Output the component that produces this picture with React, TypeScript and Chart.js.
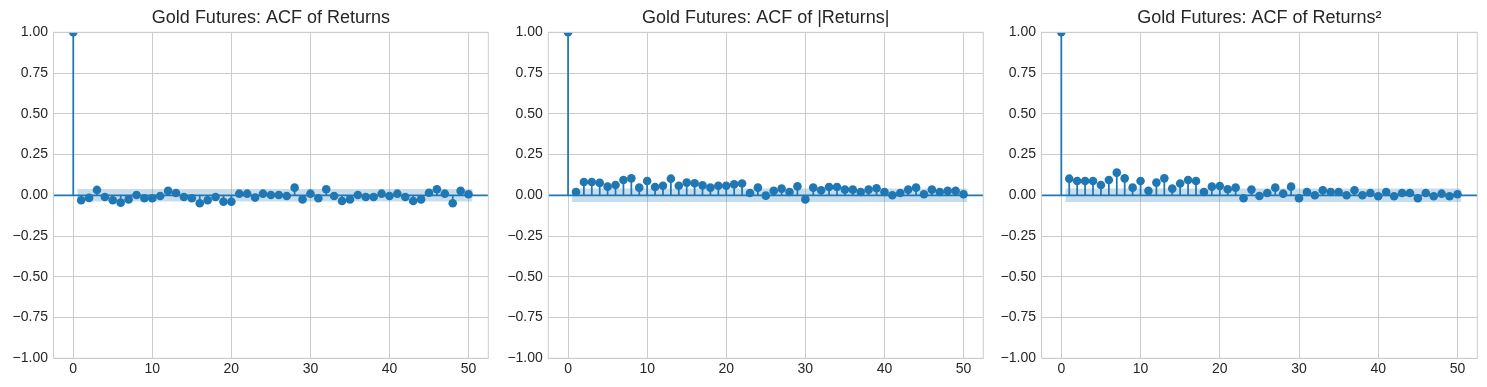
import React, { useEffect, useRef } from 'react';
import { Chart, registerables } from 'chart.js';

Chart.register(...registerables);

// ---------------- data ----------------
const lags: number[] = Array.from({ length: 51 }, (_, i) => i);

const acfReturns: number[] = [
  1, -0.03, -0.016, 0.033, -0.01, -0.03, -0.045, -0.025, 0.002, -0.018, -0.018,
  -0.004, 0.027, 0.014, -0.01, -0.018, -0.049, -0.03, -0.01, -0.04, -0.04,
  0.01, 0.01, -0.014, 0.01, 0.002, 0.002, -0.004, 0.047, -0.025, 0.01,
  -0.018, 0.037, -0.004, -0.035, -0.025, 0.002, -0.01, -0.01, 0.01, -0.004,
  0.01, -0.01, -0.035, -0.025, 0.016, 0.037, 0.01, -0.049, 0.027, 0.006,
];

const acfAbsReturns: number[] = [
  1, 0.02, 0.082, 0.082, 0.076, 0.053, 0.063, 0.094, 0.104, 0.047, 0.088,
  0.051, 0.059, 0.102, 0.059, 0.078, 0.074, 0.061, 0.047, 0.059, 0.059,
  0.067, 0.072, 0.014, 0.047, -0.002, 0.027, 0.041, 0.02, 0.055, -0.025,
  0.047, 0.031, 0.051, 0.051, 0.035, 0.035, 0.02, 0.035, 0.043, 0.02,
  0.0, 0.014, 0.035, 0.047, 0.006, 0.035, 0.02, 0.027, 0.027, 0.006,
];

const acfSqReturns: number[] = [
  1, 0.102, 0.088, 0.088, 0.088, 0.063, 0.094, 0.139, 0.104, 0.047, 0.088,
  0.027, 0.078, 0.104, 0.041, 0.072, 0.094, 0.088, 0.02, 0.053, 0.057,
  0.037, 0.047, -0.018, 0.035, -0.004, 0.014, 0.047, 0.01, 0.053, -0.018,
  0.02, 0.0, 0.031, 0.02, 0.02, 0.0, 0.031, 0.0, 0.014, -0.006,
  0.02, -0.006, 0.014, 0.014, -0.018, 0.014, -0.006, 0.01, -0.006, 0.006,
];

const confHalfWidth: number[] = [0.038, 0.041, 0.041];

const titles: string[] = [
  'Gold Futures: ACF of Returns',
  'Gold Futures: ACF of |Returns|',
  'Gold Futures: ACF of Returns²',
];

const xTickValues: number[] = [0, 10, 20, 30, 40, 50];

// ---------------- layout / style ----------------
const W = 1487;
const H = 387;
const PANEL_LEFT = [53.5, 548.3, 1041.5];
const PANEL_RIGHT = [488.3, 983.3, 1477.3];
const AXES_BOTTOM = 358.3;
const Y_AXIS_W = 50;
const BLUE = '#1f77b4';
const BAND = 'rgba(31,119,180,0.25)';
const GRID = '#cccccc';
const TEXT = '#262626';
const FONT = "'Liberation Sans', Arial, Helvetica, sans-serif";

Chart.defaults.font.family = FONT;

const fmtY = (v: number) => {
  if (Math.abs(v) < 1e-9) return '0.00';
  return v < 0 ? '\u2212' + Math.abs(v).toFixed(2) : v.toFixed(2);
};

const borderPlugin = {
  id: 'axesBorder',
  afterDatasetsDraw(chart: any) {
    const { ctx, chartArea } = chart;
    ctx.save();
    ctx.strokeStyle = GRID;
    ctx.lineWidth = 1;
    ctx.strokeRect(chartArea.left, chartArea.top, chartArea.right - chartArea.left, chartArea.bottom - chartArea.top);
    ctx.restore();
  },
};

function buildConfig(i: number): any {
  const series = [acfReturns, acfAbsReturns, acfSqReturns][i];
  const half = confHalfWidth[i];
  const stems: any[] = [];
  lags.forEach((lag, k) => {
    stems.push({ x: lag, y: 0 }, { x: lag, y: series[k] }, { x: lag, y: null });
  });
  const L = PANEL_LEFT[i];
  const R = PANEL_RIGHT[i];
  return {
    type: 'line',
    data: {
      datasets: [
        {
          label: 'acf',
          data: lags.map((lag, k) => ({ x: lag, y: series[k] })),
          showLine: false,
          pointRadius: 4.3,
          pointBackgroundColor: BLUE,
          pointBorderWidth: 0,
          pointBorderColor: BLUE,
          order: 0,
          clip: 0,
        },
        {
          label: 'zero',
          data: [{ x: -2.5, y: 0 }, { x: 52.5, y: 0 }],
          borderColor: BLUE,
          borderWidth: 1.75,
          pointRadius: 0,
          order: 1,
          clip: 0,
        },
        {
          label: 'stems',
          data: stems,
          borderColor: BLUE,
          borderWidth: 1.75,
          pointRadius: 0,
          spanGaps: false,
          order: 2,
          clip: 0,
        },
        {
          label: 'upper',
          data: [{ x: 0.5, y: half }, { x: 50.5, y: half }],
          borderColor: 'rgba(0,0,0,0)',
          borderWidth: 1,
          backgroundColor: BAND,
          fill: '+1',
          pointRadius: 0,
          order: 3,
        },
        {
          label: 'lower',
          data: [{ x: 0.5, y: -half }, { x: 50.5, y: -half }],
          borderColor: 'rgba(0,0,0,0)',
          borderWidth: 1,
          fill: false,
          pointRadius: 0,
          order: 4,
        },
      ],
    },
    options: {
      responsive: false,
      maintainAspectRatio: false,
      animation: false,
      events: [],
      layout: { padding: { left: L - Y_AXIS_W, right: W - R, top: 0, bottom: 0 } },
      plugins: {
        legend: { display: false },
        tooltip: { enabled: false },
        title: {
          display: true,
          text: titles[i],
          fullSize: false,
          color: TEXT,
          font: { size: 18, weight: 'normal', family: FONT, lineHeight: 1.2 },
          padding: { top: 6.96, bottom: 3.74 },
        },
      },
      scales: {
        x: {
          type: 'linear',
          min: -2.5,
          max: 52.5,
          afterFit: (s: any) => { s.height = H - AXES_BOTTOM; },
          afterBuildTicks: (s: any) => { s.ticks = xTickValues.map((v) => ({ value: v })); },
          ticks: {
            color: TEXT,
            font: { size: 14, family: FONT },
            padding: 2,
            maxRotation: 0,
            autoSkip: false,
            callback: (v: any) => String(v),
          },
          grid: { color: GRID, lineWidth: 1, drawTicks: false },
          border: { display: false },
        },
        y: {
          type: 'linear',
          min: -1,
          max: 1,
          afterFit: (s: any) => { s.width = Y_AXIS_W; },
          ticks: {
            stepSize: 0.25,
            color: TEXT,
            font: { size: 14, family: FONT },
            padding: 5.5,
            autoSkip: false,
            callback: (v: any) => fmtY(Number(v)),
          },
          grid: { color: GRID, lineWidth: 1, drawTicks: false },
          border: { display: false },
        },
      },
    },
    plugins: [borderPlugin],
  };
}

function Panel({ index }: { index: number }) {
  const ref = useRef<HTMLCanvasElement | null>(null);
  useEffect(() => {
    if (!ref.current) return;
    const chart = new Chart(ref.current, buildConfig(index));
    return () => chart.destroy();
  }, [index]);
  return (
    <canvas
      ref={ref}
      width={W}
      height={H}
      style={{ position: 'absolute', left: 0, top: 0, width: W, height: H }}
    />
  );
}

export default function App() {
  return (
    <div
      style={{
        position: 'fixed',
        left: 0,
        top: 0,
        width: W,
        height: H,
        background: '#ffffff',
        overflow: 'hidden',
      }}
    >
      <Panel index={0} />
      <Panel index={1} />
      <Panel index={2} />
    </div>
  );
}
